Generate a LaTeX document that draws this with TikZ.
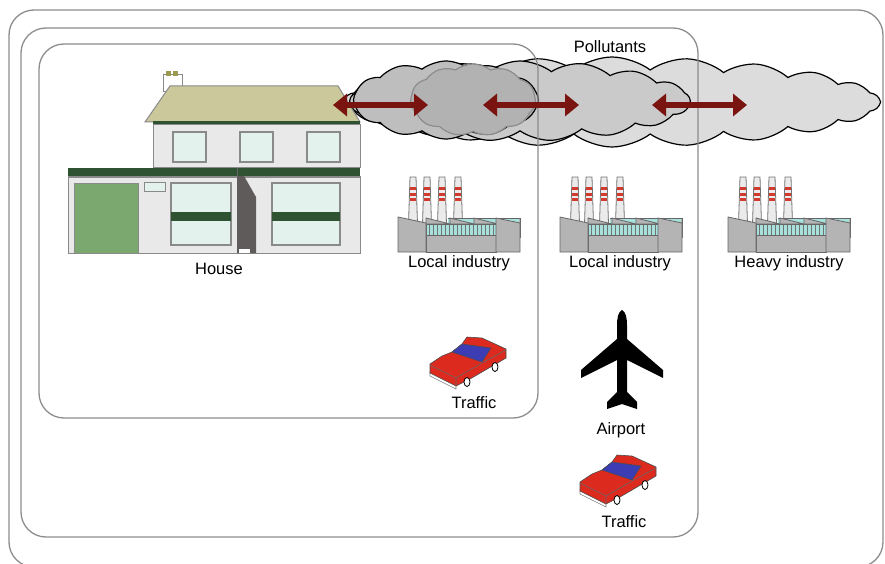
\documentclass[tikz,border=0pt]{standalone}
\usepackage{fontspec}
\setmainfont{Liberation Sans}
\usetikzlibrary{arrows.meta,shapes.symbols}

\definecolor{framegray}{HTML}{8C8C8C}
\definecolor{roofkhaki}{HTML}{CBC99B}
\definecolor{trimgreen}{HTML}{2F5233}
\definecolor{wallwhite}{HTML}{E9E9E9}
\definecolor{wallline}{HTML}{8A8A8A}
\definecolor{panecolor}{HTML}{E4F2EE}
\definecolor{garagegreen}{HTML}{7BA86F}
\definecolor{doorgray}{HTML}{5F5B5B}
\definecolor{potolive}{HTML}{9A9A50}
\definecolor{smokelight}{HTML}{DCDCDC}
\definecolor{smokemid}{HTML}{CACACA}
\definecolor{smokedark}{HTML}{BEBEBE}
\definecolor{smokedeep}{HTML}{B2B2B2}
\definecolor{arrowred}{HTML}{7A1410}
\definecolor{millgray}{HTML}{B4B4B4}
\definecolor{millteal}{HTML}{A8E0DC}
\definecolor{stackred}{HTML}{D23A2E}
\definecolor{carred}{HTML}{DC2A1E}
\definecolor{carblue}{HTML}{3C3CB4}

\tikzset{
  frame/.style={draw=framegray, line width=1.3pt, rounded corners=25pt},
  label/.style={inner sep=0pt, font=\fontsize{16.5}{19}\selectfont},
  smoke/.style={cloud, cloud ignores aspect, draw=black, line width=1.2pt, inner sep=0pt,
    cloud puff arc=75},
  flow/.style={draw=arrowred, line width=6pt,
    {Triangle[width=22pt,length=14pt]}-{Triangle[width=22pt,length=14pt]}},
  wall/.style={fill=wallwhite, draw=wallline, line width=1pt},
  pane/.style={fill=panecolor, draw=wallline, line width=2pt},
  mill/.style={fill=millgray, draw=black!60, line width=0.8pt},
  factory/.pic={
    % stacks first, the sheds hide their feet
    \foreach \cx in {15,29,44,60}{
      \filldraw[fill=black!8, draw=black!55, line width=0.8pt]
        (\cx-4.5,47) -- (\cx-3,0) -- (\cx+3,0) -- (\cx+4.5,47) -- cycle;
      \foreach \by in {10,16,21}
        \fill[stackred] (\cx-3.4,\by) rectangle (\cx+3.4,\by+3);
    }
    \filldraw[mill] (50,41) rectangle (122,60);
    \fill[millteal] (50,42) rectangle (121,47);
    \foreach \sx in {28,52,76}
      \filldraw[mill] (\sx,41) -- (\sx+24,47) -- (\sx,47) -- cycle;
    \fill[millteal] (28,47) rectangle (98,58);
    \foreach \vx in {31,35,...,97}
      \draw[black!55, line width=0.6pt] (\vx,47) -- (\vx,58);
    \draw[black!60, line width=0.8pt] (28,47) rectangle (98,58);
    \filldraw[mill] (28,58) rectangle (98,75);
    \filldraw[mill] (0,40) -- (28,46) -- (28,75) -- (0,75) -- cycle;
    \filldraw[mill] (98,41) -- (122,46) -- (122,75) -- (98,75) -- cycle;
  },
  car/.pic={
    \filldraw[fill=white, draw=black!50, line width=0.6pt]
      (2,35) -- (28,48) -- (28,52) -- (2,39) -- cycle;
    \filldraw[fill=carred, draw=black!70, line width=0.6pt]
      (2,27) -- (14,19) -- (24,15) -- (34,7) -- (39,0) -- (54,1) -- (78,12)
      -- (78,21) -- (42,42) -- (28,49) -- (2,36) -- cycle;
    \filldraw[fill=carblue, draw=black!70, line width=0.6pt]
      (24,15) -- (34,7) -- (63,11) -- (54,25) -- cycle;
    \draw[black!60, line width=0.6pt] (2,28) -- (28,41) -- (28,49)
      (28,41) -- (54,26) -- (78,13);
    \filldraw[fill=white, draw=black, line width=0.8pt] (39,45) ellipse (3 and 4.5);
    \filldraw[fill=white, draw=black, line width=0.8pt] (67,30) ellipse (3 and 4.5);
  }
}

\begin{document}
\begin{tikzpicture}[x=1pt, y=-1pt]
    \useasboundingbox (0,0) rectangle (885,564);

    % pollution clouds, lightest at the back
    \node[smoke, fill=smokelight, cloud puffs=22,
      minimum width=535pt, minimum height=90pt] (haze) at (612,102) {};
    \node[smoke, fill=smokemid, cloud puffs=17,
      minimum width=340pt, minimum height=80pt] (plume) at (520,101) {};
    \node[smoke, fill=smokedark, cloud puffs=12,
      minimum width=185pt, minimum height=78pt] (smog) at (446,100) {};
    \node[smoke, fill=smokedeep, draw=black!45, cloud puffs=11,
      minimum width=125pt, minimum height=72pt] (soot) at (473,100) {};

    % zones
    \draw[frame] (9,10) rectangle (883,567);
    \draw[frame] (21,28) rectangle (698,537);
    \draw[frame] (39,44) rectangle (538,418);

    % house
    \filldraw[fill=white, draw=wallline, line width=1pt] (163,75) rectangle (182,92);
    \fill[potolive] (166,71) rectangle (171,76);
    \fill[potolive] (173,71) rectangle (178,76);
    \filldraw[fill=roofkhaki, draw=wallline, line width=1pt]
      (145,122) -- (170,86) -- (338,86) -- (360,122) -- cycle;
    \fill[trimgreen] (153,121) rectangle (360,125);
    \filldraw[wall] (153,125) rectangle (360,168);
    \foreach \wx in {173,240,307}
      \filldraw[pane] (\wx,132) rectangle +(33,30);
    \fill[trimgreen] (68,168) rectangle (360,177);
    \filldraw[wall] (68,177) rectangle (360,253);
    \filldraw[fill=garagegreen, draw=wallline, line width=1pt] (74,183) rectangle (138,253);
    \filldraw[pane, line width=1pt] (144,182) rectangle (165,191);
    \foreach \wx/\ww in {171/60,272/68}{
      \filldraw[pane] (\wx,183) rectangle +(\ww,62);
      \fill[trimgreen] (\wx,212) rectangle +(\ww,9);
    }
    \fill[doorgray] (237,176) -- (244,176) -- (256,197) -- (256,253) -- (237,253) -- cycle;
    \fill[white] (239,249) rectangle (250,253);
    \draw[black!60, line width=1pt] (237,168) -- (237,177);

    % industry
    \pic at (398,177) {factory};
    \pic at (560,177) {factory};
    \pic at (728,177) {factory};

    % traffic
    \pic at (428,337) {car};
    \pic at (578,455) {car};

    % airport
    \fill[black] (622,310) .. controls (626,312) and (627,318) .. (627,326)
      -- (627,339) -- (663,370) -- (663,378) -- (627,360) -- (627,392)
      -- (637,402) -- (637,409) -- (622,404) -- (607,409) -- (607,402)
      -- (617,392) -- (617,360) -- (581,378) -- (581,370) -- (617,339)
      -- (617,326) .. controls (617,318) and (618,312) .. (622,310) -- cycle;

    % labels
    \node[label] (pollutants) at (610,47) {Pollutants};
    \node[label] (house) at (219,269) {House};
    \node[label] (local1) at (459,263) {Local industry};
    \node[label] (local2) at (620,263) {Local industry};
    \node[label] (heavy) at (789,263) {Heavy industry};
    \node[label] (traffic1) at (474,403) {Traffic};
    \node[label] (airport) at (621,430) {Airport};
    \node[label] (traffic2) at (624,522) {Traffic};

    % exchange of pollutants
    \coordinate (a1w) at (333,105);
    \coordinate (a1e) at (428,105);
    \coordinate (a2w) at (483,105);
    \coordinate (a2e) at (579,105);
    \coordinate (a3w) at (652,105);
    \coordinate (a3e) at (747,105);
    \draw[flow] (a1w) -- (a1e);
    \draw[flow] (a2w) -- (a2e);
    \draw[flow] (a3w) -- (a3e);
\end{tikzpicture}
\end{document}
